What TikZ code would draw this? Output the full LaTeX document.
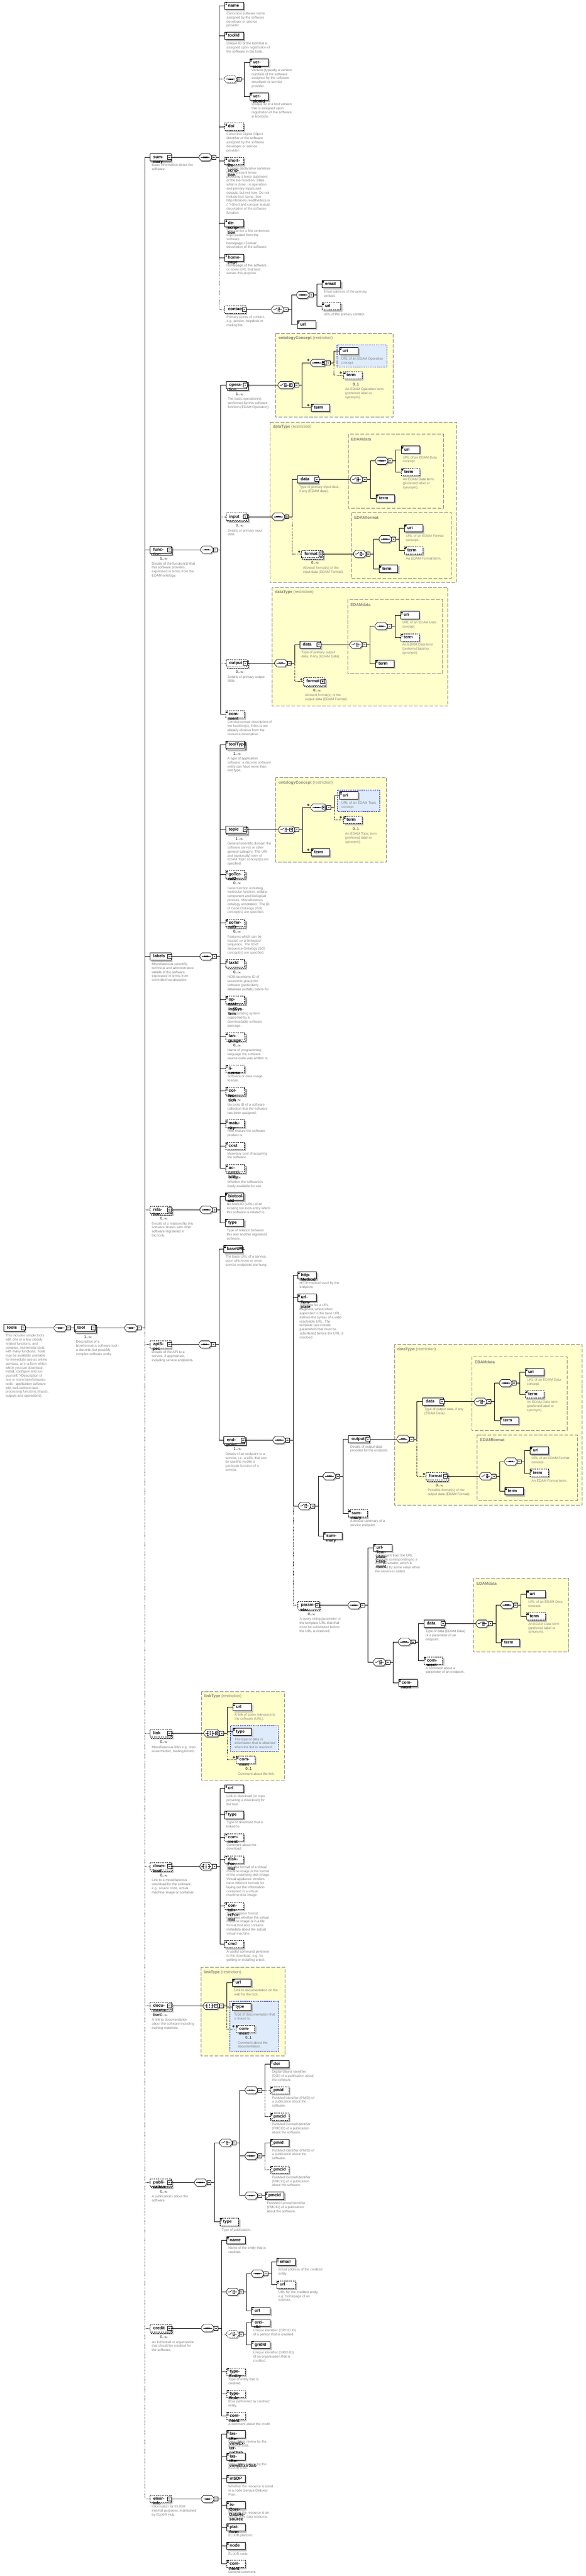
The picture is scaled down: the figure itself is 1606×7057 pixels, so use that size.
\documentclass[tikz,border=0pt]{standalone}
\usepackage{fontspec}
\setmainfont{Liberation Sans}
\usetikzlibrary{arrows.meta}
\definecolor{dgray}{RGB}{128,128,128}
\definecolor{shc}{RGB}{192,192,192}
\definecolor{ybg}{RGB}{255,255,204}
\definecolor{ybd}{RGB}{128,128,128}
\definecolor{bbg}{RGB}{222,235,250}
\definecolor{bbd}{RGB}{0,0,255}
\pgfdeclarelayer{bg}
\pgfdeclarelayer{sh}
\pgfsetlayers{bg,sh,main}
\newcommand\elfont{\fontsize{11.5}{13}\selectfont\bfseries}
\newcommand\dfont{\fontsize{9.3}{11}\selectfont}
\newcommand\mfont{\fontsize{10}{12}\selectfont}
\newcommand\tfont{\fontsize{11}{13}\selectfont}
\newcommand\infy{\ensuremath{\infty}}
\newdimen\elt
\tikzset{
 sol/.style={},
 opt/.style={dash pattern=on 3pt off 2pt},
 el/.style={draw,fill=white,line width=1pt,font=\elfont,inner xsep=7.5pt,inner ysep=0pt,minimum height=20pt,align=left,text height=8.5pt,text depth=2.5pt},
 mbox/.style={draw,fill=white,line width=1pt,minimum size=11pt,inner sep=0pt},
 desc/.style={font=\dfont,text=dgray,align=left,inner sep=0pt,anchor=north west,execute at begin node=\strut},
 mult/.style={font=\mfont,inner sep=0pt,anchor=base east},
 lnk/.style={line width=1pt},
 lopt/.style={line width=1pt,dash pattern=on 2pt off 2pt},
 ybox/.style={fill=ybg,draw=ybd,line width=1pt,dash pattern=on 10pt off 4pt},
 bbox/.style={fill=bbg,draw=bbd,line width=1pt,dash pattern=on 3pt off 2pt},
 ytitle/.style={anchor=west,inner sep=0pt,font=\tfont,text=dgray},
}
% icons
\newcommand\Icn[1]{\begin{scope}[shift={(#1.north west)}]\draw[line width=.8pt] (1.5,-2) -- (7,-2) (1.5,-4.2) -- (6,-4.2) (1.5,-6.4) -- (6,-6.4);\end{scope}}
\newcommand\Arr[1]{\begin{scope}[shift={(#1.south west)}]\draw[line width=.8pt,-{Stealth[length=3pt,width=3pt]}] (2,2) -- (6.5,6.5);\end{scope}}
\newcommand\Mbx[2]{\node[mbox] (#1-m) at ([xshift=-4.5pt]#1.east) {};\draw[line width=1pt] ([xshift=-2.5pt]#1-m.center) -- ([xshift=2.5pt]#1-m.center);\ifnum#2=1 \draw[line width=1pt] ([yshift=-2.5pt]#1-m.center) -- ([yshift=2.5pt]#1-m.center);\fi}
% element: id X Y label style(sol/opt) multi(m/n) kind(s simple, r ref, c children, p collapsed, t ref+children)
\newcommand\Elm[7]{%
 \settowidth\elt{\elfont #4}\advance\elt by 1pt
 \if#7s\ifdim\elt<36pt \elt=36pt\fi\else\if#7r\ifdim\elt<36pt \elt=36pt\fi\else\advance\elt by 11pt \ifdim\elt<42pt \elt=42pt\fi\fi\fi
 \node[el,#5,text width=\elt,anchor=west] (#1) at (#2,-#3) {\hspace*{1pt}#4};
 \begin{pgfonlayer}{sh}
 \if#6m
  \fill[shc] ([shift={(7pt,-7pt)}]#1.north west) rectangle ([shift={(7pt,-7pt)}]#1.south east);
  \draw[#5,fill=white,line width=1pt] ([shift={(3.5pt,-3.5pt)}]#1.north west) rectangle ([shift={(3.5pt,-3.5pt)}]#1.south east);
 \else
  \fill[shc] ([shift={(4pt,-4pt)}]#1.north west) rectangle ([shift={(4pt,-4pt)}]#1.south east);
 \fi
 \end{pgfonlayer}
 \if#7s\Icn{#1}\fi
 \if#7r\Icn{#1}\Arr{#1}\fi
 \if#7t\Arr{#1}\Mbx{#1}{0}\fi
 \if#7c\Mbx{#1}{0}\fi
 \if#7p\Mbx{#1}{1}\fi}
% compositor symbols
\newcommand\syms{\draw[line width=1pt] (5,0) -- (29,0);\fill (11,-1.7) rectangle (14.4,1.7) (15.3,-1.7) rectangle (18.7,1.7) (19.6,-1.7) rectangle (23,1.7);}
\newcommand\symc{\draw[line width=1pt] (5,0) -- (10,0) -- (15,4.5) (18,5.5) -- (18,-5.5) (18,0) -- (29,0) (18,4) -- (21,4) (18,-4) -- (21,-4);\fill (21,2.8) rectangle (23.4,5.2) (21,-5.2) rectangle (23.4,-2.8) (21,-1.2) rectangle (23.4,1.2);}
\newcommand\syma{\draw[line width=1pt] (4,0) -- (12,0) (12,5.5) -- (9,5.5) -- (9,-5.5) -- (12,-5.5) (22,5.5) -- (25,5.5) -- (25,-5.5) -- (22,-5.5) (22,0) -- (30,0);\fill (15.8,2.8) rectangle (18.2,5.2) (15.8,-1.2) rectangle (18.2,1.2) (15.8,-5.2) rectangle (18.2,-2.8);}
% compositor: id X Y kind(s/c/a) style width
\newcommand\Cmp[6]{%
 \node[inner sep=0pt,minimum width=#6pt,minimum height=20pt,anchor=west] (#1) at (#2,-#3) {};
 \begin{scope}[shift={(#1.west)}]
  \fill[shc] (3,0) -- (9,7) -- (#6-3,7) -- (#6+3,0) -- (#6+3,-6) -- (#6-3,-13) -- (9,-13) -- (3,-6) -- cycle;
  \draw[#5,fill=white,line width=1pt] (0,3) -- (6,10) -- (#6-6,10) -- (#6,3) -- (#6,-3) -- (#6-6,-10) -- (6,-10) -- (0,-3) -- cycle;
  \csname sym#4\endcsname
  \ifnum#6>40 \draw[line width=.6pt,fill=white] (31,-4) rectangle (39,4);\fill (32.5,1.5) -- (37.5,1.5) -- (35,-1.8) -- cycle;\fi
 \end{scope}
 \node[mbox] (#1-m) at ([xshift=5.5pt]#1.east) {};
 \draw[line width=1pt] ([xshift=-2.5pt]#1-m.center) -- ([xshift=2.5pt]#1-m.center);}
\newcommand\Xm[2]{\draw[fill=gray!25,line width=.5pt] (#1,-#2) circle (2.8pt);\draw[line width=.6pt] (#1-1.5,-#2-1.5) -- (#1+1.5,-#2+1.5) (#1-1.5,-#2+1.5) -- (#1+1.5,-#2-1.5);}
\newcommand\Dsc[2]{\node[desc] (#1-d) at ([xshift=5pt,yshift=-6.7pt]#1.south west) {#2};}
\newcommand\DscM[2]{\node[desc] (#1-d) at ([xshift=5pt,yshift=-23.7pt]#1.south west) {#2};}
\newcommand\Mul[2]{\node[mult] (#1-n) at ([xshift=-9pt,yshift=-17.4pt]#1.south east) {#2};}
\newcommand\Lk[3][lnk]{\draw[#1] (#3-m.east) -- ([xshift=9pt]#3-m.east) |- (#2.west);}
\newcommand\Pk[3][lnk]{\draw[#1] (#2.east) -- (#3.west);}
\newcommand\optname{opt}
\newcommand\LkS[3]{\def\tmpst{#1}\ifx\tmpst\optname\Lk[lopt]{#2}{#3}\else\Lk{#2}{#3}\fi}
% simple element: id X Y label style cmp desc
\newcommand\Sx[7]{\Elm{#1}{#2}{#3}{#4}{#5}{n}{s}\ifx\relax#7\relax\else\Dsc{#1}{#7}\fi\LkS{#5}{#1}{#6}}
% multiple simple element: id X Y label style cmp mult desc
\newcommand\Mx[8]{\Elm{#1}{#2}{#3}{#4}{#5}{m}{s}\Mul{#1}{#8}\DscM{#1}{#7}\LkS{#5}{#1}{#6}}
\newcommand\YB[7]{\begin{pgfonlayer}{bg}\draw[ybox] (#2,-#3) rectangle (#4,-#5);\end{pgfonlayer}\node[ytitle] (#1) at (#2+8,-#3-14) {\textbf{#6}#7};}
\newcommand\BB[4]{\begin{pgfonlayer}{bg}\draw[bbox] (#1,-#2) rectangle (#3,-#4);\end{pgfonlayer}}
\begin{document}
\begin{tikzpicture}[x=1pt,y=1pt]
\begin{pgfonlayer}{bg}
\fill[white] (0,0) rectangle (1606,-7057);
\end{pgfonlayer}
\useasboundingbox (0,0) rectangle (1606,-7057);
%
% ================= ROOT =================
\Elm{tools}{10}{3638}{tools}{sol}{n}{c}
\Dsc{tools}{This includes simple tools\\with one or a few closely\\related functions, and\\complex, multimodal tools\\with many functions.  Tools\\may be available available\\for immediate use as online\\services, or in a form which\\which you can download,\\install, configure and run\\yourself.">Description of\\one or more bioinformatics\\tools - application software\\with well-defined data\\processing functions (inputs,\\outputs and operations).}
\Cmp{s0}{148}{3638}{s}{sol}{34}
\Pk{tools}{s0}
\Elm{tool}{203}{3638}{tool}{sol}{m}{t}
\Mul{tool}{1..\infy}
\DscM{tool}{Description of a\\bioinformatics software tool -\\a discrete, but possibly\\complex software entity.}
\Lk{tool}{s0}
\Cmp{s1}{342}{3638}{s}{sol}{34}
\Pk{tool}{s1}
%
% ================= SUMMARY =================
\Elm{summary}{411}{431}{summary}{sol}{n}{c}
\Dsc{summary}{Basic information about the\\software.}
\Lk{summary}{s1}
\Cmp{ss}{546}{431}{s}{sol}{34}
\Pk{summary}{ss}
\Sx{name}{616}{16}{name}{sol}{ss}{Canonical software name\\assigned by the software\\developer or service\\provider.}
\Sx{toolId}{616}{98}{toolId}{sol}{ss}{Unique ID of the tool that is\\assigned upon registration of\\the software in bio.tools.}
\Cmp{vs}{615}{217}{s}{opt}{34}
\Lk[lopt]{vs}{ss}
\Sx{version}{684.5}{171}{version}{sol}{vs}{Version (typically a version\\number) of the software\\assigned by the software\\developer or service\\provider.}
\Sx{versionId}{684.5}{265}{versionId}{sol}{vs}{Unique ID of a tool version\\that is assigned upon\\registration of the software\\in bio.tools.}
\Sx{doi}{616}{347}{doi}{opt}{ss}{Canonical Digital Object\\Identifier of the software\\assigned by the software\\developer or service\\provider.}
\Sx{shortDescription}{616}{441}{shortDescription}{opt}{ss}{A single declarative sentence\\in the present tense,\\providing a terse statement\\of the tool function.  State\\what is done, i.e.operation,\\and primary inputs and\\outputs, but not how. Do not\\include tool name. See\\http://biotools.readthedocs.io\\/.">Short and concise textual\\description of the software\\function.}
\Sx{description}{616}{612}{description}{sol}{ss}{This can be a few sentences\\copy-pasted from the\\software\\homepage.>Textual\\description of the software.}
\Sx{homepage}{616}{706}{homepage}{sol}{ss}{Homepage of the software,\\or some URL that best\\serves this purpose.}
\Elm{contact}{616}{848}{contact}{opt}{n}{c}
\Dsc{contact}{Primary points of contact,\\e.g. person, helpdesk or\\mailing list.}
\Lk[lopt]{contact}{ss}
\Cmp{cc}{744}{848}{c}{sol}{34}
\Pk{contact}{cc}
\Cmp{cse}{813}{808}{s}{sol}{34}
\Lk{cse}{cc}
\Sx{cemail}{882}{778}{email}{sol}{cse}{Email address of the primary\\contact.}
\Sx{curl}{882}{839}{url}{opt}{cse}{URL of the primary contact.}
\Sx{curlb}{814}{889}{url}{sol}{cc}{}
%
% ================= FUNCTION =================
\Elm{function}{411}{1506}{function}{sol}{m}{c}
\Mul{function}{1..\infy}
\DscM{function}{Details of the function(s) that\\this software provides,\\expressed in terms from the\\EDAM ontology.}
\Lk{function}{s1}
\Cmp{fs}{550}{1506}{s}{sol}{34}
\Pk{function}{fs}
% operation
\YB{yb1}{755.5}{913}{1077}{1143}{ontologyConcept}{ (restriction)}
\BB{924}{945}{1060}{1006}
\Elm{operation}{619}{1055}{operation}{sol}{m}{c}
\Mul{operation}{1..\infy}
\DscM{operation}{The basic operation(s)\\performed by this software\\function (EDAM Operation).}
\Lk{operation}{fs}
\Cmp{oc}{762}{1055}{c}{sol}{45}
\Pk{operation}{oc}
\Cmp{os}{851}{994}{s}{sol}{43}
\Lk{os}{oc}
\Xm{845}{986}
\Sx{ouri}{930}{962}{uri}{sol}{os}{URL of an EDAM Operation\\concept.}
\Elm{oterm}{941}{1028}{term}{opt}{n}{s}
\Mul{oterm}{0..1}
\DscM{oterm}{An EDAM Operation term\\(preferred label or\\synonym).}
\Lk[lopt]{oterm}{os}
\Xm{934}{1021}
\Sx{otermb}{852}{1117}{term}{sol}{oc}{}
\Xm{845}{1110}
% input
\YB{yb2}{740}{1156}{1250.5}{1596}{dataType}{ (restriction)}
\YB{yb3}{954}{1189.5}{1215}{1391.5}{EDAMdata}{}
\YB{yb4}{962.5}{1404}{1237}{1584}{EDAMformat}{}
\Elm{input}{619}{1415.5}{input}{opt}{m}{c}
\Mul{input}{0..\infy}
\DscM{input}{Details of primary input\\data.}
\Lk[lopt]{input}{fs}
\Cmp{is}{746}{1415.5}{s}{sol}{34}
\Pk{input}{is}
\Elm{idata}{815}{1313.5}{data}{sol}{n}{c}
\Dsc{idata}{Type of primary input data,\\if any (EDAM data).}
\Lk{idata}{is}
\Cmp{idc}{960}{1313.5}{c}{sol}{34}
\Pk{idata}{idc}
\Cmp{ids}{1029}{1262.5}{s}{sol}{34}
\Lk{ids}{idc}
\Sx{iduri}{1099}{1232}{uri}{sol}{ids}{URL of an EDAM Data\\concept.}
\Sx{idterm}{1099}{1293}{term}{opt}{ids}{An EDAM  Data term\\(preferred label or\\synonym).}
\Sx{idtermb}{1030}{1365}{term}{sol}{idc}{}
\Elm{iformat}{825.5}{1517.5}{format}{opt}{m}{c}
\Mul{iformat}{0..\infy}
\DscM{iformat}{Allowed format(s) of the\\input data (EDAM Format).}
\Lk[lopt]{iformat}{is}
\Xm{820}{1511}
\Cmp{ifc}{969}{1517.5}{c}{sol}{34}
\Pk{iformat}{ifc}
\Cmp{ifs}{1039}{1477}{s}{sol}{34}
\Lk{ifs}{ifc}
\Sx{ifuri}{1107.6}{1447}{uri}{sol}{ifs}{URL of an EDAM Format\\concept.}
\Sx{ifterm}{1107.6}{1508}{term}{opt}{ifs}{An EDAM Format term.}
\Sx{iftermb}{1039}{1558}{term}{sol}{ifc}{}
% output
\YB{yb5}{745.7}{1609}{1227.6}{1934}{dataType}{ (restriction)}
\YB{yb6}{952.5}{1642.5}{1213}{1844.6}{EDAMdata}{}
\Elm{output}{619}{1816.5}{output}{opt}{m}{c}
\Mul{output}{0..\infy}
\DscM{output}{Details of primary output\\data.}
\Lk[lopt]{output}{fs}
\Cmp{ous}{753}{1816.5}{s}{sol}{34}
\Pk{output}{ous}
\Elm{odata}{821}{1766}{data}{sol}{n}{c}
\Dsc{odata}{Type of primary output\\data, if any (EDAM Data).}
\Lk{odata}{ous}
\Cmp{odc}{959}{1766}{c}{sol}{34}
\Pk{odata}{odc}
\Cmp{ods}{1028}{1715.5}{s}{sol}{34}
\Lk{ods}{odc}
\Sx{oduri}{1097.6}{1685}{uri}{sol}{ods}{URL of an EDAM Data\\concept.}
\Sx{odterm}{1097.6}{1746}{term}{opt}{ods}{An EDAM  Data term\\(preferred label or\\synonym).}
\Sx{odtermb}{1028.6}{1818}{term}{sol}{odc}{}
\Elm{oformat}{831}{1867}{format}{opt}{m}{p}
\Mul{oformat}{0..\infy}
\DscM{oformat}{Allowed format(s) of the\\output data (EDAM Format).}
\Lk[lopt]{oformat}{ous}
\Xm{826}{1861}
\Sx{fcomment}{618}{1957}{comment}{opt}{fs}{Concise textual description of\\the function(s), if this is not\\already obvious from the\\resource description.}
%
% ================= LABELS =================
\Elm{labels}{411}{2620}{labels}{sol}{n}{c}
\Dsc{labels}{Miscellaneous scientific,\\technical and administrative\\details of the software,\\expressed in terms from\\controlled vocabularies.}
\Lk{labels}{s1}
\Cmp{ls}{548}{2620}{s}{sol}{34}
\Pk{labels}{ls}
\Mx{toolType}{618}{2040}{toolType}{sol}{ls}{A type of application\\software: a discrete software\\entity can have more than\\one type.}{1..\infy}
\YB{yb7}{755.5}{2130}{1058.6}{2362}{ontologyConcept}{ (restriction)}
\BB{925}{2163.6}{1041}{2223}
\Elm{topic}{618}{2273}{topic}{sol}{m}{c}
\Mul{topic}{1..\infy}
\DscM{topic}{General scientific domain the\\software serves or other\\general category.  The URI\\and (optionally) term of\\EDAM Topic concept(s) are\\specified.}
\Lk{topic}{ls}
\Cmp{tc}{763}{2273}{c}{sol}{45}
\Pk{topic}{tc}
\Cmp{ts}{852}{2212}{s}{sol}{43}
\Lk{ts}{tc}
\Xm{845}{2205}
\Sx{turi}{930.6}{2179}{uri}{sol}{ts}{URL of an EDAM Topic\\concept.}
\Elm{tterm}{941}{2246}{term}{opt}{n}{s}
\Mul{tterm}{0..1}
\DscM{tterm}{An EDAM Topic term\\(preferred label or\\synonym).}
\Lk[lopt]{tterm}{ts}
\Xm{934}{2239}
\Sx{ttermb}{852}{2335}{term}{sol}{tc}{}
\Xm{845}{2328}
\Mx{goTermID}{618}{2395}{goTermID}{opt}{ls}{Gene function including\\molecular function, cellular\\component and biological\\process.  Miscellaneous\\ontology annotation. The ID\\of Gene Ontology (GO)\\concept(s) are specified.}{0..\infy}
\Mx{soTermID}{618}{2528}{soTermID}{opt}{ls}{Features which can be\\located on a biological\\sequence. The ID of\\Sequence Ontology (SO)\\concept(s) are specified.}{0..\infy}
\Mx{taxId}{618}{2639}{taxId}{opt}{ls}{NCBI taxonomy ID of\\taxonomic group the\\software (particularly\\database portals) caters for.}{0..\infy}
\Mx{operatingSystem}{618}{2739}{operatingSystem}{opt}{ls}{The operating system\\supported by a\\downloadable software\\package.}{0..\infy}
\Mx{language}{618}{2839}{language}{opt}{ls}{Name of programming\\language the software\\source code was written in.}{0..\infy}
\Sx{license}{618}{2928}{license}{opt}{ls}{Software or data usage\\license.}
\Mx{collection}{618}{2989}{collection}{opt}{ls}{bio.tools ID of a software\\collection that the software\\has been assigned.}{0..\infy}
\Sx{maturity}{618}{3078}{maturity}{opt}{ls}{How mature the software\\product is.}
\Sx{cost}{618}{3139}{cost}{opt}{ls}{Monetary cost of acquiring\\the software.}
\Mx{accessibility}{618}{3200}{accessibility}{opt}{ls}{Whether the software is\\freely available for use.}{0..\infy}
%
% ================= RELATION =================
\Elm{relation}{411}{3314}{relation}{opt}{m}{c}
\Mul{relation}{0..\infy}
\DscM{relation}{Details of a relationship this\\software shares with other\\software registered in\\bio.tools.}
\Lk[lopt]{relation}{s1}
\Cmp{rs}{548}{3314}{s}{sol}{34}
\Pk{relation}{rs}
\Sx{biotoolsId}{616.6}{3278}{biotoolsId}{sol}{rs}{bio.tools ID (URL)  of an\\existing bio.tools entry which\\this software is related to.}
\Sx{rtype}{616.6}{3350}{type}{sol}{rs}{Type of relation between\\this and another registered\\software.}
%
% ================= API =================
\Elm{apiSpec}{411}{3683}{apiSpec}{opt}{n}{c}
\Dsc{apiSpec}{Details of the API to a\\service, if appropriate,\\including service endpoints.}
\Lk[lopt]{apiSpec}{s1}
\Cmp{as}{545}{3683}{s}{sol}{34}
\Pk{apiSpec}{as}
\Sx{baseURL}{613}{3422}{baseURL}{sol}{as}{The base URL of a service,\\upon which one or more\\service endpoints are hung.}
\Elm{endpoint}{613}{3945}{endpoint}{sol}{m}{c}
\Mul{endpoint}{1..\infy}
\DscM{endpoint}{Details of an endpoint to a\\service, i.e. a URL that can\\be used to invoke a\\particular function of a\\service.}
\Lk{endpoint}{as}
\Cmp{eps}{748}{3945}{s}{sol}{34}
\Pk{endpoint}{eps}
\Sx{httpMethod}{816}{3494}{httpMethod}{sol}{eps}{HTTP method used by the\\endpoint.}
\Sx{urlTemplate}{816}{3555}{urlTemplate}{sol}{eps}{Template for a URL\\fragment, which when\\appended to the base URL,\\defines the syntax of a valid\\resolvable URL.  The\\template can include\\parameters that must be\\substituted before the URL is\\resolved.}
\Cmp{epc}{817.5}{4125.5}{c}{sol}{34}
\Lk{epc}{eps}
\Cmp{epcs}{885.7}{4044}{s}{sol}{34}
\Lk{epcs}{epc}
\YB{yb8}{1081}{3683}{1595}{4123}{dataType}{ (restriction)}
\YB{yb9}{1293}{3716.7}{1554}{3918}{EDAMdata}{}
\YB{yb10}{1308}{3931}{1582}{4110.5}{EDAMformat}{}
\Elm{eoutput}{954.7}{3942}{output}{sol}{n}{c}
\Dsc{eoutput}{Details of output data\\provided by the endpoint.}
\Lk{eoutput}{epcs}
\Cmp{eos}{1088}{3942}{s}{sol}{34}
\Pk{eoutput}{eos}
\Elm{eodata}{1158}{3840}{data}{sol}{n}{c}
\Dsc{eodata}{Type of output data, if any\\(EDAM Data).}
\Lk{eodata}{eos}
\Cmp{eodc}{1300}{3840}{c}{sol}{34}
\Pk{eodata}{eodc}
\Cmp{eods}{1369}{3789}{s}{sol}{34}
\Lk{eods}{eodc}
\Sx{eoduri}{1439}{3759}{uri}{sol}{eods}{URL of an EDAM Data\\concept.}
\Sx{eodterm}{1439}{3820}{term}{opt}{eods}{An EDAM  Data term\\(preferred label or\\synonym).}
\Sx{eodtermb}{1370}{3892}{term}{sol}{eodc}{}
\Elm{eoformat}{1167}{4044}{format}{opt}{m}{c}
\Mul{eoformat}{0..\infy}
\DscM{eoformat}{Possible format(s) of the\\output data (EDAM Format).}
\Lk[lopt]{eoformat}{eos}
\Xm{1162}{4038}
\Cmp{eofc}{1314.5}{4044}{c}{sol}{34}
\Pk{eoformat}{eofc}
\Cmp{eofs}{1383}{4004}{s}{sol}{34}
\Lk{eofs}{eofc}
\Sx{eofuri}{1452}{3974}{uri}{sol}{eofs}{URL of an EDAM Format\\concept.}
\Sx{eofterm}{1452}{4035}{term}{opt}{eofs}{An EDAM Format term.}
\Sx{eoftermb}{1383}{4085}{term}{sol}{eofc}{}
\Sx{esummary}{954.7}{4146}{summary}{opt}{epcs}{A textual summary of a\\service endpoint.}
\Sx{esummaryb}{885.7}{4207.6}{summary}{sol}{epc}{}
\Elm{parameter}{816}{4397.6}{parameter}{opt}{m}{c}
\Mul{parameter}{0..\infy}
\DscM{parameter}{A query string parameter in\\the template URL that that\\must be substituted before\\the URL is resolved.}
\Lk[lopt]{parameter}{eps}
\Cmp{pas}{954}{4397.6}{s}{sol}{34}
\Pk{parameter}{pas}
\Sx{urlTemplateFragment}{1023}{4240}{urlTemplateFragment}{sol}{pas}{A fragment from the URL\\template corresponding to a\\URL parameter, which is\\replaced by some value when\\the service is called.}
\Cmp{pac}{1023}{4554}{c}{sol}{34}
\Lk{pac}{pas}
\Cmp{pacs}{1092}{4498}{s}{sol}{34}
\Lk{pacs}{pac}
\YB{yb11}{1298}{4324}{1559}{4526}{EDAMdata}{}
\Elm{pdata}{1161}{4448}{data}{sol}{n}{c}
\Dsc{pdata}{Type of data (EDAM Data)\\of a parameter of an\\endpoint.}
\Lk{pdata}{pacs}
\Cmp{pdc}{1304.5}{4448}{c}{sol}{34}
\Pk{pdata}{pdc}
\Cmp{pds}{1373}{4397}{s}{sol}{34}
\Lk{pds}{pdc}
\Sx{pduri}{1443}{4367}{uri}{sol}{pds}{URL of an EDAM Data\\concept.}
\Sx{pdterm}{1443}{4428}{term}{opt}{pds}{An EDAM  Data term\\(preferred label or\\synonym).}
\Sx{pdtermb}{1373}{4500}{term}{sol}{pdc}{}
\Sx{pcomment}{1161.5}{4549}{comment}{opt}{pacs}{A comment about a\\parameter of an endpoint.}
\Sx{pcommentb}{1092}{4610}{comment}{sol}{pac}{}
%
% ================= LINK =================
\YB{yb12}{552}{4633.5}{779.5}{4877.5}{linkType}{ (restriction)}
\BB{631.5}{4727.6}{763}{4798}
\Elm{link}{411}{4748}{link}{opt}{m}{c}
\Mul{link}{0..\infy}
\DscM{link}{Miscellaneous links e.g. repo,\\issue tracker, mailing list etc.}
\Lk[lopt]{link}{s1}
\Cmp{lka}{559}{4748}{a}{sol}{43}
\Pk{link}{lka}
\Sx{lurl}{638}{4676.5}{url}{sol}{lka}{A link of some relevance to\\the software (URL).}
\Sx{ltype}{638}{4743.7}{type}{sol}{lka}{The type of data or\\information that is obtained\\when the link is resolved.}
\Elm{lcomment}{647}{4821}{comment}{opt}{n}{s}
\Mul{lcomment}{0..1}
\DscM{lcomment}{Comment about the link.}
\Lk[lopt]{lcomment}{lka}
\Xm{641}{4814}
%
% ================= DOWNLOAD =================
\Elm{download}{411}{5113}{download}{opt}{m}{c}
\Mul{download}{0..\infy}
\DscM{download}{Link to a miscellaneous\\download for the software,\\e.g. source code, virtual\\machine image or container.}
\Lk[lopt]{download}{s1}
\Cmp{dla}{548}{5113}{a}{sol}{34}
\Pk{download}{dla}
\Sx{durl}{616}{4900}{url}{sol}{dla}{Link to download (or repo\\providing a download) for\\the tool.}
\Sx{dtype}{616}{4972}{type}{sol}{dla}{Type of download that is\\linked to.}
\Sx{dcomment}{616}{5033}{comment}{opt}{dla}{Comment about the\\download}
\Sx{diskFormat}{616}{5094}{diskFormat}{opt}{dla}{The disk format of a virtual\\machine image is the format\\of the underlying disk image.\\Virtual appliance vendors\\have different formats for\\laying out the information\\contained in a virtual\\machine disk image.}
\Sx{containerFormat}{616}{5221}{containerFormat}{opt}{dla}{The container format\\indicates whether the virtual\\machine image is in a file\\format that also contains\\metadata about the actual\\virtual machine.}
\Sx{cmd}{616}{5326}{cmd}{opt}{dla}{A useful command pertinent\\to the download, e.g. for\\getting or installing a tool.}
%
% ================= DOCUMENTATION =================
\YB{yb13}{550.7}{5389}{780.7}{5631.5}{linkType}{ (restriction)}
\BB{630}{5482}{764.7}{5620}
\Elm{documentation}{411}{5495}{documentation}{opt}{m}{c}
\Mul{documentation}{0..\infy}
\DscM{documentation}{A link to documentation\\about the software including\\training materials.}
\Lk[lopt]{documentation}{s1}
\Cmp{dca}{557}{5495}{a}{sol}{44}
\Pk{documentation}{dca}
\Sx{ourl}{636.7}{5431.5}{url}{sol}{dca}{Link to documentation on the\\web for the tool.}
\Sx{otype}{636.7}{5498}{type}{sol}{dca}{Type of documentation that\\is linked to.}
\Elm{ocomment}{646.7}{5558}{comment}{opt}{n}{s}
\Mul{ocomment}{0..1}
\DscM{ocomment}{Comment about the\\documentation.}
\Lk[lopt]{ocomment}{dca}
\Xm{640}{5551}
%
% ================= PUBLICATION =================
\Elm{publication}{411}{5979}{publication}{opt}{m}{c}
\Mul{publication}{0..\infy}
\DscM{publication}{A publications about the\\software.}
\Lk[lopt]{publication}{s1}
\Cmp{ps}{533}{5979}{s}{sol}{34}
\Pk{publication}{ps}
\Cmp{pc}{602}{5870}{c}{sol}{34}
\Lk{pc}{ps}
\Cmp{pa}{671.7}{5726}{s}{sol}{34}
\Lk{pa}{pc}
\Sx{pdoi}{740.7}{5655}{doi}{sol}{pa}{Digital Object Identifier\\(DOI) of a publication about\\the software.}
\Elm{ppmid}{740.7}{5726}{pmid}{opt}{n}{r}
\Dsc{ppmid}{PubMed Identifier (PMID) of\\a publication about the\\software.}
\Lk[lopt]{ppmid}{pa}
\Elm{ppmcid}{740.7}{5798.7}{pmcid}{opt}{n}{r}
\Dsc{ppmcid}{PubMed Central Identifier\\(PMCID) of a publication\\about the software.}
\Lk[lopt]{ppmcid}{pa}
\Cmp{pb}{671.7}{5906}{s}{sol}{34}
\Lk{pb}{pc}
\Elm{ppmidb}{740.7}{5870}{pmid}{sol}{n}{r}
\Dsc{ppmidb}{PubMed Identifier (PMID) of\\a publication about the\\software.}
\Lk{ppmidb}{pb}
\Elm{ppmcidb}{740.7}{5943.6}{pmcid}{opt}{n}{r}
\Dsc{ppmcidb}{PubMed Central Identifier\\(PMCID) of a publication\\about the software.}
\Lk[lopt]{ppmcidb}{pb}
\Cmp{pcc}{671.7}{6015}{s}{sol}{34}
\Lk{pcc}{pc}
\Elm{ppmcidc}{726.7}{6015}{pmcid}{sol}{n}{r}
\Dsc{ppmcidc}{PubMed Central Identifier\\(PMCID) of a publication\\about the software.}
\Lk{ppmcidc}{pcc}
\Sx{ptype}{602.7}{6087}{type}{opt}{ps}{Type of publication.}
%
% ================= CREDIT =================
\Elm{credit}{411}{6378}{credit}{opt}{m}{c}
\Mul{credit}{0..\infy}
\DscM{credit}{An individual or organisation\\that should be credited for\\the software.}
\Lk[lopt]{credit}{s1}
\Cmp{cs}{552}{6378}{s}{sol}{34}
\Pk{credit}{cs}
\Sx{cname}{620.7}{6137}{name}{sol}{cs}{Name of the entity that is\\credited.}
\Cmp{cca}{620.7}{6278.5}{c}{sol}{34}
\Lk{cca}{cs}
\Cmp{ccas}{689}{6228.6}{s}{sol}{34}
\Lk{ccas}{cca}
\Sx{cemailb}{758}{6197}{email}{sol}{ccas}{Email address of the credited\\entity.}
\Sx{curlc}{758}{6258.4}{url}{opt}{ccas}{URL for the credited entity,\\e.g. homepage of an\\institute.}
\Sx{curld}{689}{6330.6}{url}{sol}{cca}{}
\Cmp{ccb}{620.7}{6394.6}{c}{opt}{34}
\Lk[lopt]{ccb}{cs}
\Sx{orcidId}{689}{6363.4}{orcidId}{sol}{ccb}{Unique identifier (ORCID iD)\\of a person that is credited.}
\Sx{gridId}{689}{6424}{gridId}{sol}{ccb}{Unique identifier (GRID ID)\\of an organisation that is\\credited.}
\Sx{typeEntity}{620.7}{6497}{typeEntity}{opt}{cs}{Type of entity that is\\credited.}
\Sx{typeRole}{620.7}{6558}{typeRole}{opt}{cs}{Role performed by credited\\entity.}
\Sx{ccomment}{620.7}{6619}{comment}{opt}{cs}{A comment about the credit.}
%
% ================= ELIXIR =================
\Elm{elixirInfo}{411}{6846}{elixirInfo}{opt}{n}{c}
\Dsc{elixirInfo}{Information for ELIXIR\\internal purposes, maintained\\by ELIXIR Hub.}
\Lk[lopt]{elixirInfo}{s1}
\Cmp{es}{552}{6846}{s}{sol}{34}
\Pk{elixirInfo}{es}
\Sx{lastReviewExternalSab}{620.7}{6668.5}{lastReviewExternalSab}{sol}{es}{Date of last review by the\\External SAB.}
\Sx{lastReviewElixirSab}{620.7}{6729.5}{lastReviewElixirSab}{sol}{es}{Date of last review by the\\ELIXIR SAB.}
\Sx{inSDP}{620.7}{6790.6}{inSDP}{sol}{es}{Whether the resource is listed\\in a node Service Delivery\\Plan.}
\Sx{isCoreDataResource}{620.7}{6862.8}{isCoreDataResource}{sol}{es}{Whether the resource is an\\official core data resource.}
\Sx{platform}{620.7}{6923.8}{platform}{sol}{es}{ELIXIR platform.}
\Sx{enode}{620.7}{6974.4}{node}{sol}{es}{ELIXIR node.}
\Sx{ecomment}{620.7}{7024}{comment}{opt}{es}{General comment.}
\end{tikzpicture}
\end{document}
